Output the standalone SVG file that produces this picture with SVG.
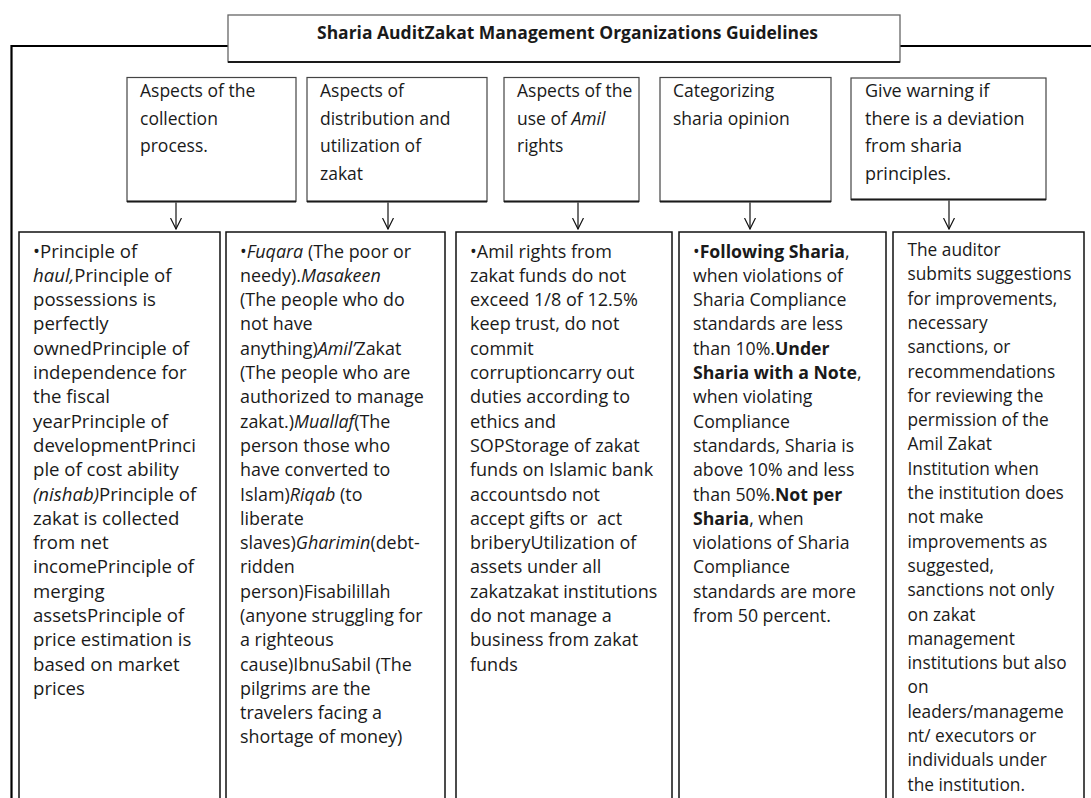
<svg xmlns="http://www.w3.org/2000/svg" width="1091" height="798" viewBox="0 0 1091 798">
  <style>
    .frame { fill: none; stroke: #000; stroke-width: 2.2; }
    .title rect { fill: #fff; stroke: #666; stroke-width: 1.3; }
    .hdr rect { fill: #fff; stroke: #444; stroke-width: 1.2; }
    .edge { stroke: #1a1a1a; stroke-width: 2; }
    .body rect { fill: #fff; stroke: #111; stroke-width: 1.5; }
    text { font-family: "Open Sans", "Noto Sans", "Liberation Sans", sans-serif; fill: #1a1a1a; }
    .t { font-size: 17px; font-weight: bold; }
    .h { font-size: 17.5px; }
    .i { font-style: italic; }
    .bd { font-weight: bold; }
    .conn line { stroke: #111; stroke-width: 1.2; }
  </style>
  <defs>
    <marker id="vee" viewBox="0 0 12 12" refX="11" refY="6" markerWidth="12" markerHeight="12" markerUnits="userSpaceOnUse" orient="auto">
      <path d="M0,0.5 L11,6 L0,11.5" fill="none" stroke="#111" stroke-width="1.2"/>
    </marker>
  </defs>

  <!-- outer bracket frame -->
  <path class="frame" d="M11.5,800 V46 H1091"/>

  <!-- title -->
  <g id="title" class="title">
    <rect x="228" y="15" width="672" height="47"/>
    <line class="edge" x1="228" y1="62" x2="900" y2="62"/>
    <text class="t" x="317" y="38.5" textLength="501" lengthAdjust="spacingAndGlyphs">Sharia AuditZakat Management Organizations Guidelines</text>
  </g>

  <!-- aspect headers -->
  <g id="hdr-collection" class="hdr">
    <rect x="127" y="77.5" width="169" height="124"/>
    <line class="edge" x1="127" y1="201.5" x2="296" y2="201.5"/>
    <text class="h" x="140" y="97"><tspan x="140">Aspects of the</tspan><tspan x="140" dy="27.7">collection</tspan><tspan x="140" dy="27.7">process.</tspan></text>
  </g>
  <g id="hdr-distribution" class="hdr">
    <rect x="307" y="77.5" width="180" height="124"/>
    <line class="edge" x1="307" y1="201.5" x2="487" y2="201.5"/>
    <text class="h" x="320" y="97"><tspan x="320">Aspects of</tspan><tspan x="320" dy="27.7">distribution and</tspan><tspan x="320" dy="27.7">utilization of</tspan><tspan x="320" dy="27.7">zakat</tspan></text>
  </g>
  <g id="hdr-amil" class="hdr">
    <rect x="504" y="77.5" width="135" height="124"/>
    <line class="edge" x1="504" y1="201.5" x2="639" y2="201.5"/>
    <text class="h" x="517" y="97"><tspan x="517">Aspects of the</tspan><tspan x="517" dy="27.7">use of <tspan class="i">Amil</tspan></tspan><tspan x="517" dy="27.7">rights</tspan></text>
  </g>
  <g id="hdr-opinion" class="hdr">
    <rect x="660" y="77.5" width="171" height="124"/>
    <line class="edge" x1="660" y1="201.5" x2="831" y2="201.5"/>
    <text class="h" x="673" y="97"><tspan x="673">Categorizing</tspan><tspan x="673" dy="27.7">sharia opinion</tspan></text>
  </g>
  <g id="hdr-warning" class="hdr">
    <rect x="851" y="78" width="195" height="121.5"/>
    <line class="edge" x1="851" y1="199.5" x2="1046" y2="199.5"/>
    <text class="h" x="865" y="97" style="font-size:18px"><tspan x="865">Give warning if</tspan><tspan x="865" dy="27.7">there is a deviation</tspan><tspan x="865" dy="27.7">from sharia</tspan><tspan x="865" dy="27.7">principles.</tspan></text>
  </g>

  <!-- connectors -->
  <g id="connectors" class="conn">
    <line x1="176" y1="202.5" x2="176" y2="229" marker-end="url(#vee)"/>
    <line x1="388" y1="202.5" x2="388" y2="229" marker-end="url(#vee)"/>
    <line x1="578" y1="202.5" x2="578" y2="229" marker-end="url(#vee)"/>
    <line x1="750" y1="202.5" x2="750" y2="229" marker-end="url(#vee)"/>
    <line x1="949" y1="200.5" x2="949" y2="229" marker-end="url(#vee)"/>
  </g>

  <!-- detail columns -->
  <g id="body-collection" class="body">
    <rect x="19" y="232" width="201" height="600"/>
    <text x="33" y="257.5" style="font-size:18.6px">
      <tspan x="33">•Principle of</tspan>
      <tspan x="33" dy="24.3"><tspan class="i">haul,</tspan>Principle of</tspan>
      <tspan x="33" dy="24.3">possessions is</tspan>
      <tspan x="33" dy="24.3">perfectly</tspan>
      <tspan x="33" dy="24.3">ownedPrinciple of</tspan>
      <tspan x="33" dy="24.3">independence for</tspan>
      <tspan x="33" dy="24.3">the fiscal</tspan>
      <tspan x="33" dy="24.3">yearPrinciple of</tspan>
      <tspan x="33" dy="24.3">developmentPrinci</tspan>
      <tspan x="33" dy="24.3">ple of cost ability</tspan>
      <tspan x="33" dy="24.3"><tspan class="i">(nishab)</tspan>Principle of</tspan>
      <tspan x="33" dy="24.3">zakat is collected</tspan>
      <tspan x="33" dy="24.3">from net</tspan>
      <tspan x="33" dy="24.3">incomePrinciple of</tspan>
      <tspan x="33" dy="24.3">merging</tspan>
      <tspan x="33" dy="24.3">assetsPrinciple of</tspan>
      <tspan x="33" dy="24.3">price estimation is</tspan>
      <tspan x="33" dy="24.3">based on market</tspan>
      <tspan x="33" dy="24.3">prices</tspan>
    </text>
  </g>

  <g id="body-distribution" class="body">
    <rect x="226" y="232" width="219" height="600"/>
    <text x="240" y="257.5" style="font-size:17.9px">
      <tspan x="240">•<tspan class="i">Fuqara</tspan> (The poor or</tspan>
      <tspan x="240" dy="24.3">needy).<tspan class="i">Masakeen</tspan></tspan>
      <tspan x="240" dy="24.3">(The people who do</tspan>
      <tspan x="240" dy="24.3">not have</tspan>
      <tspan x="240" dy="24.3">anything)<tspan class="i">Amil’</tspan>Zakat</tspan>
      <tspan x="240" dy="24.3">(The people who are</tspan>
      <tspan x="240" dy="24.3">authorized to manage</tspan>
      <tspan x="240" dy="24.3">zakat.)<tspan class="i">Muallaf</tspan>(The</tspan>
      <tspan x="240" dy="24.3">person those who</tspan>
      <tspan x="240" dy="24.3">have converted to</tspan>
      <tspan x="240" dy="24.3">Islam)<tspan class="i">Riqab</tspan> (to</tspan>
      <tspan x="240" dy="24.3">liberate</tspan>
      <tspan x="240" dy="24.3">slaves)<tspan class="i">Gharimin</tspan>(debt-</tspan>
      <tspan x="240" dy="24.3">ridden</tspan>
      <tspan x="240" dy="24.3">person)Fisabilillah</tspan>
      <tspan x="240" dy="24.3">(anyone struggling for</tspan>
      <tspan x="240" dy="24.3">a righteous</tspan>
      <tspan x="240" dy="24.3">cause)IbnuSabil (The</tspan>
      <tspan x="240" dy="24.3">pilgrims are the</tspan>
      <tspan x="240" dy="24.3">travelers facing a</tspan>
      <tspan x="240" dy="24.3">shortage of money)</tspan>
    </text>
  </g>

  <g id="body-amil" class="body">
    <rect x="456" y="232" width="216" height="600"/>
    <text x="470" y="257.5" style="font-size:18px">
      <tspan x="470">•Amil rights from</tspan>
      <tspan x="470" dy="24.3">zakat funds do not</tspan>
      <tspan x="470" dy="24.3">exceed 1/8 of 12.5%</tspan>
      <tspan x="470" dy="24.3">keep trust, do not</tspan>
      <tspan x="470" dy="24.3">commit</tspan>
      <tspan x="470" dy="24.3">corruptioncarry out</tspan>
      <tspan x="470" dy="24.3">duties according to</tspan>
      <tspan x="470" dy="24.3">ethics and</tspan>
      <tspan x="470" dy="24.3">SOPStorage of zakat</tspan>
      <tspan x="470" dy="24.3">funds on Islamic bank</tspan>
      <tspan x="470" dy="24.3">accountsdo not</tspan>
      <tspan x="470" dy="24.3" xml:space="preserve">accept gifts or  act</tspan>
      <tspan x="470" dy="24.3">briberyUtilization of</tspan>
      <tspan x="470" dy="24.3">assets under all</tspan>
      <tspan x="470" dy="24.3">zakatzakat institutions</tspan>
      <tspan x="470" dy="24.3">do not manage a</tspan>
      <tspan x="470" dy="24.3">business from zakat</tspan>
      <tspan x="470" dy="24.3">funds</tspan>
    </text>
  </g>

  <g id="body-opinion" class="body">
    <rect x="679" y="232" width="207" height="600"/>
    <text x="693" y="257.5" style="font-size:17.7px">
      <tspan x="693">•<tspan class="bd">Following Sharia</tspan>,</tspan>
      <tspan x="693" dy="24.3">when violations of</tspan>
      <tspan x="693" dy="24.3">Sharia Compliance</tspan>
      <tspan x="693" dy="24.3">standards are less</tspan>
      <tspan x="693" dy="24.3">than 10%.<tspan class="bd">Under</tspan></tspan>
      <tspan x="693" dy="24.3"><tspan class="bd">Sharia with a Note</tspan>,</tspan>
      <tspan x="693" dy="24.3">when violating</tspan>
      <tspan x="693" dy="24.3">Compliance</tspan>
      <tspan x="693" dy="24.3">standards, Sharia is</tspan>
      <tspan x="693" dy="24.3">above 10% and less</tspan>
      <tspan x="693" dy="24.3">than 50%.<tspan class="bd">Not per</tspan></tspan>
      <tspan x="693" dy="24.3"><tspan class="bd">Sharia</tspan>, when</tspan>
      <tspan x="693" dy="24.3">violations of Sharia</tspan>
      <tspan x="693" dy="24.3">Compliance</tspan>
      <tspan x="693" dy="24.3">standards are more</tspan>
      <tspan x="693" dy="24.3">from 50 percent.</tspan>
    </text>
  </g>

  <g id="body-warning" class="body">
    <rect x="893" y="232" width="191" height="600"/>
    <text x="907.5" y="256" style="font-size:17.3px">
      <tspan x="907.5">The auditor</tspan>
      <tspan x="907.5" dy="24.3">submits suggestions</tspan>
      <tspan x="907.5" dy="24.3">for improvements,</tspan>
      <tspan x="907.5" dy="24.3">necessary</tspan>
      <tspan x="907.5" dy="24.3">sanctions, or</tspan>
      <tspan x="907.5" dy="24.3">recommendations</tspan>
      <tspan x="907.5" dy="24.3">for reviewing the</tspan>
      <tspan x="907.5" dy="24.3">permission of the</tspan>
      <tspan x="907.5" dy="24.3">Amil Zakat</tspan>
      <tspan x="907.5" dy="24.3">Institution when</tspan>
      <tspan x="907.5" dy="24.3">the institution does</tspan>
      <tspan x="907.5" dy="24.3">not make</tspan>
      <tspan x="907.5" dy="24.3">improvements as</tspan>
      <tspan x="907.5" dy="24.3">suggested,</tspan>
      <tspan x="907.5" dy="24.3">sanctions not only</tspan>
      <tspan x="907.5" dy="24.3">on zakat</tspan>
      <tspan x="907.5" dy="24.3">management</tspan>
      <tspan x="907.5" dy="24.3">institutions but also</tspan>
      <tspan x="907.5" dy="24.3">on</tspan>
      <tspan x="907.5" dy="24.3">leaders/manageme</tspan>
      <tspan x="907.5" dy="24.3">nt/ executors or</tspan>
      <tspan x="907.5" dy="24.3">individuals under</tspan>
      <tspan x="907.5" dy="24.3">the institution.</tspan>
    </text>
  </g>
</svg>
